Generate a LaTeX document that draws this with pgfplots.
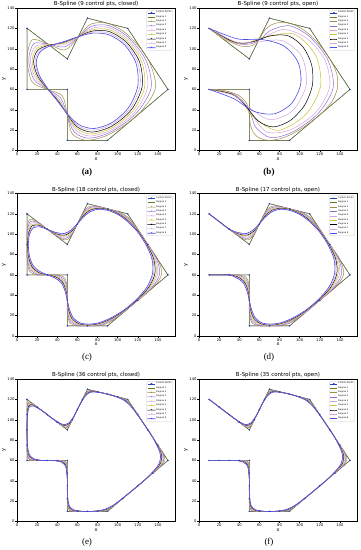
\documentclass[border=0pt]{standalone}
\usepackage{fontspec}
\setmainfont{DejaVu Sans}
\newfontfamily\capfont{Liberation Serif}
\usepackage{pgfplots}
\pgfplotsset{compat=1.18}
\usepgfplotslibrary{groupplots}
\definecolor{cpblue}{HTML}{2A3FB0}
\definecolor{dc1}{HTML}{6B7A1F}
\definecolor{dc2}{HTML}{A08C4A}
\definecolor{dc3}{HTML}{8E6FD8}
\definecolor{dc4}{HTML}{D9A2D9}
\definecolor{dc5}{HTML}{C9C232}
\definecolor{dc6}{HTML}{000000}
\definecolor{dc7}{HTML}{D3A6DE}
\definecolor{dc8}{HTML}{4B4BE6}
\pgfplotsset{
  cpts/.style={color=cpblue, line width=0.35pt, mark=*, mark size=0.55pt, mark options={solid, fill=cpblue}},
  deg1/.style={color=dc1, line width=0.5pt, mark=none},
  deg2/.style={color=dc2, line width=0.5pt, mark=none},
  deg3/.style={color=dc3, line width=0.5pt, mark=none},
  deg4/.style={color=dc4, line width=0.5pt, mark=none},
  deg5/.style={color=dc5, line width=0.5pt, mark=none},
  deg6/.style={color=dc6, line width=0.5pt, mark=none},
  deg7/.style={color=dc7, line width=0.5pt, mark=none},
  deg8/.style={color=dc8, line width=0.6pt, mark=none},
}
\begin{document}
\begin{tikzpicture}
\begin{groupplot}[
  group style={group size=2 by 3, horizontal sep=24pt, vertical sep=43pt},
  scale only axis, width=158pt, height=142.5pt,
  xmin=0, xmax=157, ymin=0, ymax=140,
  xtick={0,20,...,140}, ytick={0,20,...,140},
  /pgf/number format/assume math mode=true,
  tick label style={font=\fontsize{3.7}{4}\selectfont},
  xticklabel style={inner sep=0.8pt}, yticklabel style={inner sep=0.8pt},
  tick align=outside, tick pos=left, major tick length=1.5pt,
  tick style={line width=0.3pt, black},
  axis line style={line width=0.4pt},
  every axis title shift=0pt,
  title style={font=\fontsize{5.5}{6.5}\selectfont, inner sep=0.8pt},
  xlabel={x}, ylabel={y},
  label style={font=\fontsize{5}{6}\selectfont, inner sep=0.6pt},
  legend entries={Control Points,Degree 1,Degree 2,Degree 3,Degree 4,Degree 5,Degree 6,Degree 7,Degree 8},
  legend cell align=left,
  legend style={at={(0.985,0.985)}, anchor=north east, font=\fontsize{2.2}{2.4}\selectfont,
    draw=black!22, line width=0.2pt, rounded corners=0.6pt, inner xsep=0.6pt, inner ysep=0.5pt,
    row sep=0.35pt, nodes={inner sep=0.45pt}},
  legend image code/.code={\draw[mark repeat=2,mark phase=2,#1] plot coordinates {(0pt,0pt) (3.5pt,0pt) (7pt,0pt)};},
]
% ---------------- (a) ----------------
\nextgroupplot[title={B-Spline (9 control pts, closed)}]
\addplot[cpts] coordinates {(10,120)(50,90)(70,130)(110,120)(150,60)(90,10)(50,10)(50,60)(10,60)(10,120)};
\addplot[deg1] coordinates {(10,120)(50,90)(70,130)(110,120)(150,60)(90,10)(50,10)(50,60)(10,60)(10,120)};
\addplot[deg2, smooth cycle] coordinates {(15,108.75)(30,105)(47.5,98.75)(60,110)(72.5,123.75)(90,125)(110,113.75)(130,90)(137.5,61.25)(120,35)(92.5,16.25)(70,10)(55,16.25)(50,35)(45,53.75)(30,60)(15,67.5)(10,90)};
\addplot[deg3, smooth cycle] coordinates {(16.7,105)(30.4,104.6)(46.7,101.7)(60,110.4)(73.3,121.7)(90.4,122.9)(110,111.7)(127.9,89.2)(133.3,61.7)(118.3,36.3)(93.3,18.3)(71.3,12.1)(56.7,18.3)(50,35)(43.3,51.7)(30,60.2)(16.7,70)(11.7,89.4)};
\addplot[deg4, smooth cycle] coordinates {(18.2,102.1)(30.8,104.2)(46.1,103.9)(60,110.8)(74,119.9)(90.8,120.8)(109.8,109.7)(125.8,88.3)(129.7,62)(116.7,37.5)(93.9,20.3)(72.5,14.2)(58.1,20.2)(50,35)(42.1,50.1)(30,60.4)(18.1,71.8)(13.3,88.8)};
\addplot[deg5, smooth cycle] coordinates {(19.5,100.1)(31.3,103.8)(45.8,105.2)(60,111.2)(74.5,118.5)(91.2,118.8)(109.3,108)(123.8,87.5)(126.8,62.3)(115,38.7)(94.2,22.2)(73.7,16.2)(59.2,21.7)(50,35)(41.3,49.3)(30,60.6)(19.3,72.8)(15,88.1)};
\addplot[deg6, smooth cycle] coordinates {(20.7,98.6)(31.7,103.4)(45.7,106)(60.1,111.5)(74.9,117.3)(91.5,116.9)(108.7,106.4)(121.9,86.7)(124.3,62.6)(113.5,39.9)(94.3,24)(74.7,18.1)(60.1,23)(50.1,35.2)(40.9,48.7)(30.1,60.8)(20.4,73.4)(16.5,87.6)};
\addplot[deg7, smooth cycle] coordinates {(21.9,97.5)(32.2,103)(45.8,106.5)(60.1,111.5)(75.2,116.3)(91.6,115.2)(108.1,104.8)(120.1,86)(122.1,62.8)(112.1,41)(94.2,25.7)(75.6,19.9)(60.9,24.2)(50.2,35.4)(40.6,48.4)(30.3,60.9)(21.4,73.7)(17.9,87)};
\addplot[deg8, smooth cycle] coordinates {(22.9,96.7)(32.7,102.7)(45.9,106.8)(60.2,111.5)(75.4,115.3)(91.6,113.6)(107.3,103.4)(118.4,85.3)(120,63.1)(110.8,42.1)(94.1,27.3)(76.3,21.6)(61.6,25.4)(50.4,35.7)(40.4,48.3)(30.5,60.9)(22.3,73.8)(19.1,86.5)};
% ---------------- (b) ----------------
\nextgroupplot[title={B-Spline (9 control pts, open)}]
\addplot[cpts] coordinates {(10,120)(50,90)(70,130)(110,120)(150,60)(90,10)(50,10)(50,60)(10,60)};
\addplot[deg1] coordinates {(10,120)(50,90)(70,130)(110,120)(150,60)(90,10)(50,10)(50,60)(10,60)};
\addplot[deg2, smooth] coordinates {(10,120)(28.1,108.1)(42.5,102.5)(53.1,103.1)(60,110)(65.6,118.4)(72.5,123.75)(80.6,125.9)(90,125)(100,120.9)(110,113.75)(120,103.4)(130,90)(136.9,75.3)(137.5,61.25)(131.9,47.8)(120,35)(105.6,24.1)(92.5,16.25)(80.6,11.6)(70,10)(61.25,11.6)(55,16.25)(51.25,24.1)(50,35)(47.5,45.9)(40,53.75)(27.5,58.4)(10,60)};
\addplot[deg3, smooth] coordinates {(10,120)(34.9,105.9)(51.5,104.8)(62.7,110.9)(71.7,118.3)(90.2,122.5)(110,111.7)(127.9,89.2)(133.3,61.7)(118.3,36.3)(93.3,18.3)(71.3,12.6)(56.7,22.5)(52.2,33.6)(45.8,45.9)(33.2,55.9)(10,60)};
\addplot[deg4, smooth] coordinates {(10,120)(25,109.5)(40.6,105.2)(58.8,108.3)(83.6,118.9)(107.1,110.2)(125.3,88.5)(129.7,62.1)(116.1,37.5)(91.3,20.6)(66.9,18.3)(50.2,38.7)(37.7,52.8)(22,58.5)(10,60)};
\addplot[deg5, smooth] coordinates {(10,120)(28,108.3)(45.6,105.3)(65.3,111.3)(94.3,114.4)(115.9,93.4)(120.7,63)(105.5,34.8)(78.2,19.8)(54.4,32.7)(41.4,49.5)(27,57.5)(10,60)};
\addplot[deg6, smooth] coordinates {(10,120)(34.1,107)(50.1,106)(71.6,112.8)(88.9,112.6)(103.2,101.9)(111.9,84.3)(112.6,63.9)(104.9,44.5)(90.8,29.6)(74.1,23.2)(59.1,28.8)(44.5,46.1)(32.3,55.5)(10,60)};
\addplot[deg7, smooth] coordinates {(10,120)(37.3,106.4)(55.3,106.4)(82.5,108)(102.1,92.3)(106.6,64.7)(93.3,39.4)(70.5,30.3)(48.6,43.2)(34.9,54.1)(10,60)};
\addplot[deg8, smooth] coordinates {(10,120)(38.2,109.7)(62.9,109)(84.4,102.6)(98.4,86.8)(101.1,65.6)(91.9,46.2)(74.5,36)(54.3,38.6)(34.6,50.9)(10,60)};
% ---------------- (c) ----------------
\nextgroupplot[title={B-Spline (18 control pts, closed)}]
\addplot[cpts] coordinates {(10,120)(30,105)(50,90)(60,110)(70,130)(90,125)(110,120)(130,90)(150,60)(120,35)(90,10)(70,10)(50,10)(50,35)(50,60)(30,60)(10,60)(10,90)(10,120)};
\addplot[deg1] coordinates {(10,120)(50,90)(70,130)(110,120)(150,60)(90,10)(50,10)(50,60)(10,60)(10,120)};
\addplot[deg2, smooth cycle] coordinates {(12.5,114.4)(20,112.5)(30,105)(40,97.5)(48.75,94.4)(55,100)(60,110)(65,120)(71.25,126.9)(80,127.5)(90,125)(100,122.5)(110,116.9)(120,105)(130,90)(140,75)(143.75,60.6)(135,47.5)(120,35)(105,22.5)(91.25,13.1)(80,10)(70,10)(60,10)(52.5,13.1)(50,22.5)(50,35)(50,47.5)(47.5,56.9)(40,60)(30,60)(20,60)(12.5,63.75)(10,75)(10,90)(10,105)};
\addplot[deg3, smooth cycle] coordinates {(13.3,112.5)(20.4,111.6)(30,105)(39.8,98.2)(48.3,95.8)(54.8,100.7)(60,110)(65.2,119.5)(71.7,125.8)(80.2,127)(90,125)(100,122)(110,115.8)(120,104.5)(130,90)(139,75.1)(141.7,60.8)(134,47.6)(120,35)(105.2,23)(91.7,14.2)(80.2,10.5)(70,10)(60.4,10.5)(53.3,14.2)(50.4,23)(50,35)(49.6,47)(46.7,55.8)(39.6,59.5)(30,60)(20.4,60.6)(13.3,65)(10.4,75.6)(10,90)(10.4,104.1)};
\addplot[deg4, smooth cycle] coordinates {(14.1,110.9)(20.8,110.6)(30,105)(39.6,99)(48,97.1)(54.6,101.5)(60,110)(65.4,119)(72,124.9)(80.4,126.5)(90,125)(100,121.5)(110,114.9)(120,104)(130,90)(137.9,75.2)(139.8,61)(132.9,47.7)(120,35)(105.4,23.5)(92,15.1)(80.4,11)(70,10)(60.8,11)(54.1,15.1)(50.8,23.5)(50,35)(49.2,46.5)(45.9,54.9)(39.2,59)(30,60)(20.8,61.3)(14.1,66.1)(10.8,76.3)(10,90)(10.8,103.1)};
\addplot[deg5, smooth cycle] coordinates {(14.7,109.5)(21.3,109.7)(30.1,104.9)(39.4,99.7)(47.7,98.2)(54.4,102.2)(60,110.1)(65.6,118.4)(72.3,124.2)(80.6,125.9)(90.1,124.6)(100,120.9)(110,114.2)(120,103.4)(129.6,89.8)(136.9,75.3)(138.3,61.2)(131.9,47.8)(119.7,35.3)(105.6,24.1)(92.3,15.8)(80.6,11.6)(70.3,10.4)(61.3,11.6)(54.7,15.8)(51.3,24.1)(50,35)(48.8,45.9)(45.3,54.2)(38.8,58.4)(30,60)(21.3,61.9)(14.7,67)(11.3,76.9)(10.3,89.9)(11.3,102.2)};
\addplot[deg6, smooth cycle] coordinates {(15.2,108.3)(21.6,108.8)(30.2,104.8)(39.2,100.4)(47.4,99.1)(54.2,102.9)(60,110.2)(65.8,118)(72.6,123.5)(80.8,125.5)(90.2,124.2)(100,120.5)(110,113.5)(120,103)(129.2,89.7)(135.9,75.4)(137,61.3)(130.9,47.9)(119.4,35.5)(105.8,24.6)(92.6,16.5)(80.8,12.1)(70.5,10.8)(61.6,12.1)(55.2,16.5)(51.6,24.6)(50,35)(48.4,45.5)(44.8,53.5)(38.4,58)(30,60.1)(21.6,62.5)(15.2,67.8)(11.6,77.5)(10.6,89.8)(11.6,101.3)};
\addplot[deg7, smooth cycle] coordinates {(15.7,107.2)(22,108)(30.2,104.8)(39,101)(47.2,100)(54,103.5)(60,110.2)(66,117.5)(72.8,122.9)(81,125)(90.2,123.8)(100,120)(110,112.9)(120,102.5)(128.8,89.5)(135,75.5)(135.8,61.4)(130,48)(119,35.7)(106,25)(92.8,17.1)(81,12.5)(70.7,11.2)(62,12.5)(55.7,17.1)(52,25)(50,35)(48,45)(44.3,52.9)(38,57.5)(30,60.1)(22,63)(15.7,68.5)(12,78)(11,89.6)(12,100.5)};
\addplot[deg8, smooth cycle] coordinates {(16.1,106.2)(22.4,107.2)(30.3,104.7)(38.8,101.7)(46.9,100.7)(53.8,104.2)(60,110.3)(66.2,117)(73.1,122.3)(81.2,124.5)(90.3,123.3)(100,119.5)(110,112.3)(120,102)(128.3,89.3)(134.1,75.6)(134.7,61.5)(129.1,48.1)(118.7,36)(106.2,25.5)(93.1,17.7)(81.2,13)(71,11.7)(62.4,13)(56.1,17.7)(52.4,25.5)(50,35)(47.6,44.5)(43.9,52.3)(37.6,57)(30,60.2)(22.4,63.6)(16.1,69.2)(12.4,78.6)(11.3,89.5)(12.4,99.7)};
% ---------------- (d) ----------------
\nextgroupplot[title={B-Spline (17 control pts, open)}]
\addplot[cpts] coordinates {(10,120)(30,105)(50,90)(60,110)(70,130)(90,125)(110,120)(130,90)(150,60)(120,35)(90,10)(70,10)(50,10)(50,35)(50,60)(30,60)(10,60)};
\addplot[deg1] coordinates {(10,120)(50,90)(70,130)(110,120)(150,60)(90,10)(50,10)(50,60)(10,60)};
\addplot[deg2, smooth] coordinates {(10,120)(20,112.5)(30,105)(40,97.5)(48.75,94.4)(55,100)(60,110)(65,120)(71.25,126.9)(80,127.5)(90,125)(100,122.5)(110,116.9)(120,105)(130,90)(140,75)(143.75,60.6)(135,47.5)(120,35)(105,22.5)(91.25,13.1)(80,10)(70,10)(60,10)(52.5,13.1)(50,22.5)(50,35)(50,47.5)(47.5,56.9)(40,60)(30,60)(20,60)(10,60)};
\addplot[deg3, smooth] coordinates {(10,120)(20,112.5)(30,105)(39.8,98.2)(48.3,95.8)(54.8,100.7)(60,110)(65.2,119.5)(71.7,125.8)(80.2,127)(90,125)(100,122)(110,115.8)(120,104.5)(130,90)(139,75.1)(141.7,60.8)(134,47.6)(120,35)(105.2,23)(91.7,14.2)(80.2,10.5)(70,10)(60.4,10.5)(53.3,14.2)(50.4,23)(50,35)(49.6,47)(46.7,55.8)(39.6,59.5)(30,60)(20,60)(10,60)};
\addplot[deg4, smooth] coordinates {(10,120)(20,112.5)(30,105)(39.6,99)(48,97.1)(54.6,101.5)(60,110)(65.4,119)(72,124.9)(80.4,126.5)(90,125)(100,121.5)(110,114.9)(120,104)(130,90)(137.9,75.2)(139.8,61)(132.9,47.7)(120,35)(105.4,23.5)(92,15.1)(80.4,11)(70,10)(60.8,11)(54.1,15.1)(50.8,23.5)(50,35)(49.2,46.5)(45.9,54.9)(39.2,59)(30,60)(20,60)(10,60)};
\addplot[deg5, smooth] coordinates {(10,120)(20,112.5)(30,105)(39.4,99.7)(47.7,98.2)(54.4,102.2)(60,110.1)(65.6,118.4)(72.3,124.2)(80.6,125.9)(90.1,124.6)(100,120.9)(110,114.2)(120,103.4)(129.6,89.8)(136.9,75.3)(138.3,61.2)(131.9,47.8)(119.7,35.3)(105.6,24.1)(92.3,15.8)(80.6,11.6)(70.3,10.4)(61.3,11.6)(54.7,15.8)(51.3,24.1)(50,35)(48.8,45.9)(45.3,54.2)(38.8,58.4)(30,60)(20,60)(10,60)};
\addplot[deg6, smooth] coordinates {(10,120)(20,112.5)(30,105)(39.2,100.4)(47.4,99.1)(54.2,102.9)(60,110.2)(65.8,118)(72.6,123.5)(80.8,125.5)(90.2,124.2)(100,120.5)(110,113.5)(120,103)(129.2,89.7)(135.9,75.4)(137,61.3)(130.9,47.9)(119.4,35.5)(105.8,24.6)(92.6,16.5)(80.8,12.1)(70.5,10.8)(61.6,12.1)(55.2,16.5)(51.6,24.6)(50,35)(48.4,45.5)(44.8,53.5)(38.4,58)(30,60)(20,60)(10,60)};
\addplot[deg7, smooth] coordinates {(10,120)(20,112.5)(30,105)(39,101)(47.2,100)(54,103.5)(60,110.2)(66,117.5)(72.8,122.9)(81,125)(90.2,123.8)(100,120)(110,112.9)(120,102.5)(128.8,89.5)(135,75.5)(135.8,61.4)(130,48)(119,35.7)(106,25)(92.8,17.1)(81,12.5)(70.7,11.2)(62,12.5)(55.7,17.1)(52,25)(50,35)(48,45)(44.3,52.9)(38,57.5)(30,60)(20,60)(10,60)};
\addplot[deg8, smooth] coordinates {(10,120)(20,112.5)(30,105)(38.8,101.7)(46.9,100.7)(53.8,104.2)(60,110.3)(66.2,117)(73.1,122.3)(81.2,124.5)(90.3,123.3)(100,119.5)(110,112.3)(120,102)(128.3,89.3)(134.1,75.6)(134.7,61.5)(129.1,48.1)(118.7,36)(106.2,25.5)(93.1,17.7)(81.2,13)(71,11.7)(62.4,13)(56.1,17.7)(52.4,25.5)(50,35)(47.6,44.5)(43.9,52.3)(37.6,57)(30,60)(20,60)(10,60)};
% ---------------- (e) ----------------
\nextgroupplot[title={B-Spline (36 control pts, closed)}]
\addplot[cpts] coordinates {(10,120)(20,112.5)(30,105)(40,97.5)(50,90)(55,100)(60,110)(65,120)(70,130)(80,127.5)(90,125)(100,122.5)(110,120)(120,105)(130,90)(140,75)(150,60)(135,47.5)(120,35)(105,22.5)(90,10)(80,10)(70,10)(60,10)(50,10)(50,22.5)(50,35)(50,47.5)(50,60)(40,60)(30,60)(20,60)(10,60)(10,75)(10,90)(10,105)(10,120)};
\addplot[deg1] coordinates {(10,120)(50,90)(70,130)(110,120)(150,60)(90,10)(50,10)(50,60)(10,60)(10,120)};
\addplot[deg2, smooth cycle] coordinates {(10,97.5)(10,112.5)(11.3,117.2)(15,116.3)(25,108.8)(35,101.3)(45,93.8)(49.4,92.2)(52.5,95)(57.5,105)(62.5,115)(67.5,125)(70.6,128.4)(75,128.8)(85,126.3)(95,123.8)(105,121.3)(110,118.4)(115,112.5)(125,97.5)(135,82.5)(145,67.5)(146.9,60.3)(142.5,53.8)(127.5,41.3)(112.5,28.8)(97.5,16.3)(90.6,11.6)(85,10)(75,10)(65,10)(55,10)(51.3,11.6)(50,16.3)(50,28.8)(50,41.3)(50,53.8)(48.8,58.4)(45,60)(35,60)(25,60)(15,60)(11.3,61.9)(10,67.5)(10,82.5)};
\addplot[deg3, smooth cycle] coordinates {(10,97.5)(10.2,112)(11.7,116.3)(15.2,115.8)(25,108.8)(35,101.3)(44.9,94.1)(49.2,92.9)(52.4,95.4)(57.5,105)(62.5,115)(67.6,124.7)(70.8,127.9)(75.1,128.5)(85,126.3)(95,123.8)(105,121)(110,117.9)(115,112.2)(125,97.5)(135,82.5)(144.5,67.6)(145.8,60.4)(142,53.8)(127.5,41.3)(112.5,28.8)(97.6,16.5)(90.8,12.1)(85.1,10.3)(75,10)(65,10)(55.2,10.3)(51.7,12.1)(50.2,16.5)(50,28.8)(50,41.3)(49.8,53.5)(48.3,57.9)(44.8,59.7)(35,60)(25,60)(15.2,60.3)(11.7,62.5)(10.2,67.8)(10,82.5)};
\addplot[deg4, smooth cycle] coordinates {(10,97.5)(10.4,111.6)(12,115.4)(15.4,115.3)(25,108.8)(35,101.3)(44.8,94.5)(49,93.6)(52.3,95.7)(57.5,105)(62.5,115)(67.7,124.5)(71,127.5)(75.2,128.2)(85,126.3)(95,123.8)(105,120.7)(110,117.5)(115,112)(125,97.5)(135,82.5)(144,67.6)(144.9,60.5)(141.5,53.9)(127.5,41.3)(112.5,28.8)(97.7,16.8)(91,12.5)(85.2,10.5)(75,10)(65,10)(55.4,10.5)(52,12.5)(50.4,16.8)(50,28.8)(50,41.3)(49.6,53.2)(48,57.5)(44.6,59.5)(35,60)(25,60)(15.4,60.6)(12,63.1)(10.4,68.1)(10,82.5)};
\addplot[deg5, smooth cycle] coordinates {(10,97.5)(10.6,111.1)(12.3,114.8)(15.6,114.9)(25,108.8)(35,101.3)(44.7,94.8)(48.8,94.1)(52.2,96.1)(57.5,105)(62.5,115)(67.8,124.2)(71.2,127.1)(75.3,128)(85,126.3)(95,123.8)(105,120.5)(110,117.1)(115,111.7)(125,97.5)(135,82.5)(143.4,67.7)(144.2,60.6)(140.9,53.9)(127.5,41.3)(112.5,28.8)(97.8,17)(91.2,12.9)(85.3,10.8)(75,10)(65,10)(55.6,10.8)(52.3,12.9)(50.6,17)(50,28.8)(50,41.3)(49.4,53)(47.7,57.1)(44.4,59.2)(35,60)(25,60)(15.6,60.9)(12.3,63.5)(10.6,68.4)(10,82.5)};
\addplot[deg6, smooth cycle] coordinates {(10,97.5)(10.8,110.7)(12.6,114.2)(15.8,114.4)(25,108.8)(35,101.3)(44.6,95.2)(48.7,94.6)(52.1,96.4)(57.5,105)(62.5,115)(67.9,124)(71.3,126.8)(75.4,127.7)(85,126.3)(95,123.8)(105,120.2)(110,116.8)(115,111.5)(125,97.5)(135,82.5)(143,67.7)(143.5,60.7)(140.5,54)(127.5,41.3)(112.5,28.8)(97.9,17.3)(91.3,13.3)(85.4,11)(75,10)(65,10)(55.8,11)(52.6,13.3)(50.8,17.3)(50,28.8)(50,41.3)(49.2,52.7)(47.4,56.8)(44.2,59)(35,60)(25,60)(15.8,61.2)(12.6,63.9)(10.8,68.7)(10,82.5)};
\addplot[deg7, smooth cycle] coordinates {(10,97.5)(11,110.2)(12.9,113.6)(16,114)(25,108.8)(35,101.3)(44.5,95.5)(48.6,95)(52,96.8)(57.5,105)(62.5,115)(68,123.7)(71.4,126.4)(75.5,127.5)(85,126.3)(95,123.8)(105,120)(110,116.4)(115,111.2)(125,97.5)(135,82.5)(142.5,67.8)(142.9,60.7)(140,54)(127.5,41.3)(112.5,28.8)(98,17.5)(91.4,13.6)(85.5,11.3)(75,10)(65,10)(56,11.3)(52.9,13.6)(51,17.5)(50,28.8)(50,41.3)(49,52.5)(47.2,56.4)(44,58.7)(35,60)(25,60)(16,61.5)(12.9,64.3)(11,69)(10,82.5)};
\addplot[deg8, smooth cycle] coordinates {(10,97.5)(11.2,109.8)(13.1,113.1)(16.2,113.6)(25,108.8)(35,101.3)(44.4,95.8)(48.5,95.4)(51.9,97.1)(57.5,105)(62.5,115)(68.1,123.5)(71.5,126.2)(75.6,127.3)(85,126.3)(95,123.8)(105,119.8)(110,116.2)(115,111)(125,97.5)(135,82.5)(142,67.8)(142.3,60.8)(139.5,54.1)(127.5,41.3)(112.5,28.8)(98.1,17.7)(91.5,13.8)(85.6,11.5)(75,10)(65,10)(56.2,11.5)(53.1,13.8)(51.2,17.7)(50,28.8)(50,41.3)(48.8,52.3)(46.9,56.2)(43.8,58.5)(35,60)(25,60)(16.2,61.8)(13.1,64.6)(11.2,69.3)(10,82.5)};
% ---------------- (f) ----------------
\nextgroupplot[title={B-Spline (35 control pts, open)}]
\addplot[cpts] coordinates {(10,120)(20,112.5)(30,105)(40,97.5)(50,90)(55,100)(60,110)(65,120)(70,130)(80,127.5)(90,125)(100,122.5)(110,120)(120,105)(130,90)(140,75)(150,60)(135,47.5)(120,35)(105,22.5)(90,10)(80,10)(70,10)(60,10)(50,10)(50,22.5)(50,35)(50,47.5)(50,60)(40,60)(30,60)(20,60)(10,60)};
\addplot[deg1] coordinates {(10,120)(50,90)(70,130)(110,120)(150,60)(90,10)(50,10)(50,60)(10,60)};
\addplot[deg2, smooth] coordinates {(10,120)(35,101.3)(45,93.8)(49.4,92.2)(52.5,95)(57.5,105)(62.5,115)(67.5,125)(70.6,128.4)(75,128.8)(85,126.3)(95,123.8)(105,121.3)(110,118.4)(115,112.5)(125,97.5)(135,82.5)(145,67.5)(146.9,60.3)(142.5,53.8)(127.5,41.3)(112.5,28.8)(97.5,16.3)(90.6,11.6)(85,10)(75,10)(65,10)(55,10)(51.3,11.6)(50,16.3)(50,28.8)(50,41.3)(50,53.8)(48.8,58.4)(45,60)(35,60)(10,60)};
\addplot[deg3, smooth] coordinates {(10,120)(35,101.3)(44.9,94.1)(49.2,92.9)(52.4,95.4)(57.5,105)(62.5,115)(67.6,124.7)(70.8,127.9)(75.1,128.5)(85,126.3)(95,123.8)(105,121)(110,117.9)(115,112.2)(125,97.5)(135,82.5)(144.5,67.6)(145.8,60.4)(142,53.8)(127.5,41.3)(112.5,28.8)(97.6,16.5)(90.8,12.1)(85.1,10.3)(75,10)(65,10)(55.2,10.3)(51.7,12.1)(50.2,16.5)(50,28.8)(50,41.3)(49.8,53.5)(48.3,57.9)(44.8,59.7)(35,60)(10,60)};
\addplot[deg4, smooth] coordinates {(10,120)(35,101.3)(44.8,94.5)(49,93.6)(52.3,95.7)(57.5,105)(62.5,115)(67.7,124.5)(71,127.5)(75.2,128.2)(85,126.3)(95,123.8)(105,120.7)(110,117.5)(115,112)(125,97.5)(135,82.5)(144,67.6)(144.9,60.5)(141.5,53.9)(127.5,41.3)(112.5,28.8)(97.7,16.8)(91,12.5)(85.2,10.5)(75,10)(65,10)(55.4,10.5)(52,12.5)(50.4,16.8)(50,28.8)(50,41.3)(49.6,53.2)(48,57.5)(44.6,59.5)(35,60)(10,60)};
\addplot[deg5, smooth] coordinates {(10,120)(35,101.3)(44.7,94.8)(48.8,94.1)(52.2,96.1)(57.5,105)(62.5,115)(67.8,124.2)(71.2,127.1)(75.3,128)(85,126.3)(95,123.8)(105,120.5)(110,117.1)(115,111.7)(125,97.5)(135,82.5)(143.4,67.7)(144.2,60.6)(140.9,53.9)(127.5,41.3)(112.5,28.8)(97.8,17)(91.2,12.9)(85.3,10.8)(75,10)(65,10)(55.6,10.8)(52.3,12.9)(50.6,17)(50,28.8)(50,41.3)(49.4,53)(47.7,57.1)(44.4,59.2)(35,60)(10,60)};
\addplot[deg6, smooth] coordinates {(10,120)(35,101.3)(44.6,95.2)(48.7,94.6)(52.1,96.4)(57.5,105)(62.5,115)(67.9,124)(71.3,126.8)(75.4,127.7)(85,126.3)(95,123.8)(105,120.2)(110,116.8)(115,111.5)(125,97.5)(135,82.5)(143,67.7)(143.5,60.7)(140.5,54)(127.5,41.3)(112.5,28.8)(97.9,17.3)(91.3,13.3)(85.4,11)(75,10)(65,10)(55.8,11)(52.6,13.3)(50.8,17.3)(50,28.8)(50,41.3)(49.2,52.7)(47.4,56.8)(44.2,59)(35,60)(10,60)};
\addplot[deg7, smooth] coordinates {(10,120)(35,101.3)(44.5,95.5)(48.6,95)(52,96.8)(57.5,105)(62.5,115)(68,123.7)(71.4,126.4)(75.5,127.5)(85,126.3)(95,123.8)(105,120)(110,116.4)(115,111.2)(125,97.5)(135,82.5)(142.5,67.8)(142.9,60.7)(140,54)(127.5,41.3)(112.5,28.8)(98,17.5)(91.4,13.6)(85.5,11.3)(75,10)(65,10)(56,11.3)(52.9,13.6)(51,17.5)(50,28.8)(50,41.3)(49,52.5)(47.2,56.4)(44,58.7)(35,60)(10,60)};
\addplot[deg8, smooth] coordinates {(10,120)(35,101.3)(44.4,95.8)(48.5,95.4)(51.9,97.1)(57.5,105)(62.5,115)(68.1,123.5)(71.5,126.2)(75.6,127.3)(85,126.3)(95,123.8)(105,119.8)(110,116.2)(115,111)(125,97.5)(135,82.5)(142,67.8)(142.3,60.8)(139.5,54.1)(127.5,41.3)(112.5,28.8)(98.1,17.7)(91.5,13.8)(85.6,11.5)(75,10)(65,10)(56.2,11.5)(53.1,13.8)(51.2,17.7)(50,28.8)(50,41.3)(48.8,52.3)(46.9,56.2)(43.8,58.5)(35,60)(10,60)};
\end{groupplot}
\node[font=\capfont\bfseries\fontsize{9}{10}\selectfont] at ([xshift=-9pt,yshift=-22pt]group c1r1.south) {(a)};
\node[font=\capfont\bfseries\fontsize{9}{10}\selectfont] at ([xshift=-9pt,yshift=-22pt]group c2r1.south) {(b)};
\node[font=\capfont\fontsize{9}{10}\selectfont] at ([xshift=-9pt,yshift=-21pt]group c1r2.south) {(c)};
\node[font=\capfont\fontsize{9}{10}\selectfont] at ([xshift=-9pt,yshift=-21pt]group c2r2.south) {(d)};
\node[font=\capfont\fontsize{9}{10}\selectfont] at ([xshift=-9pt,yshift=-21pt]group c1r3.south) {(e)};
\node[font=\capfont\fontsize{9}{10}\selectfont] at ([xshift=-9pt,yshift=-21pt]group c2r3.south) {(f)};
\pgfresetboundingbox
\path[use as bounding box] ([xshift=-17pt,yshift=8pt]group c1r1.north west) rectangle ([xshift=344pt,yshift=-542pt]group c1r1.north west);
\end{tikzpicture}
\end{document}
